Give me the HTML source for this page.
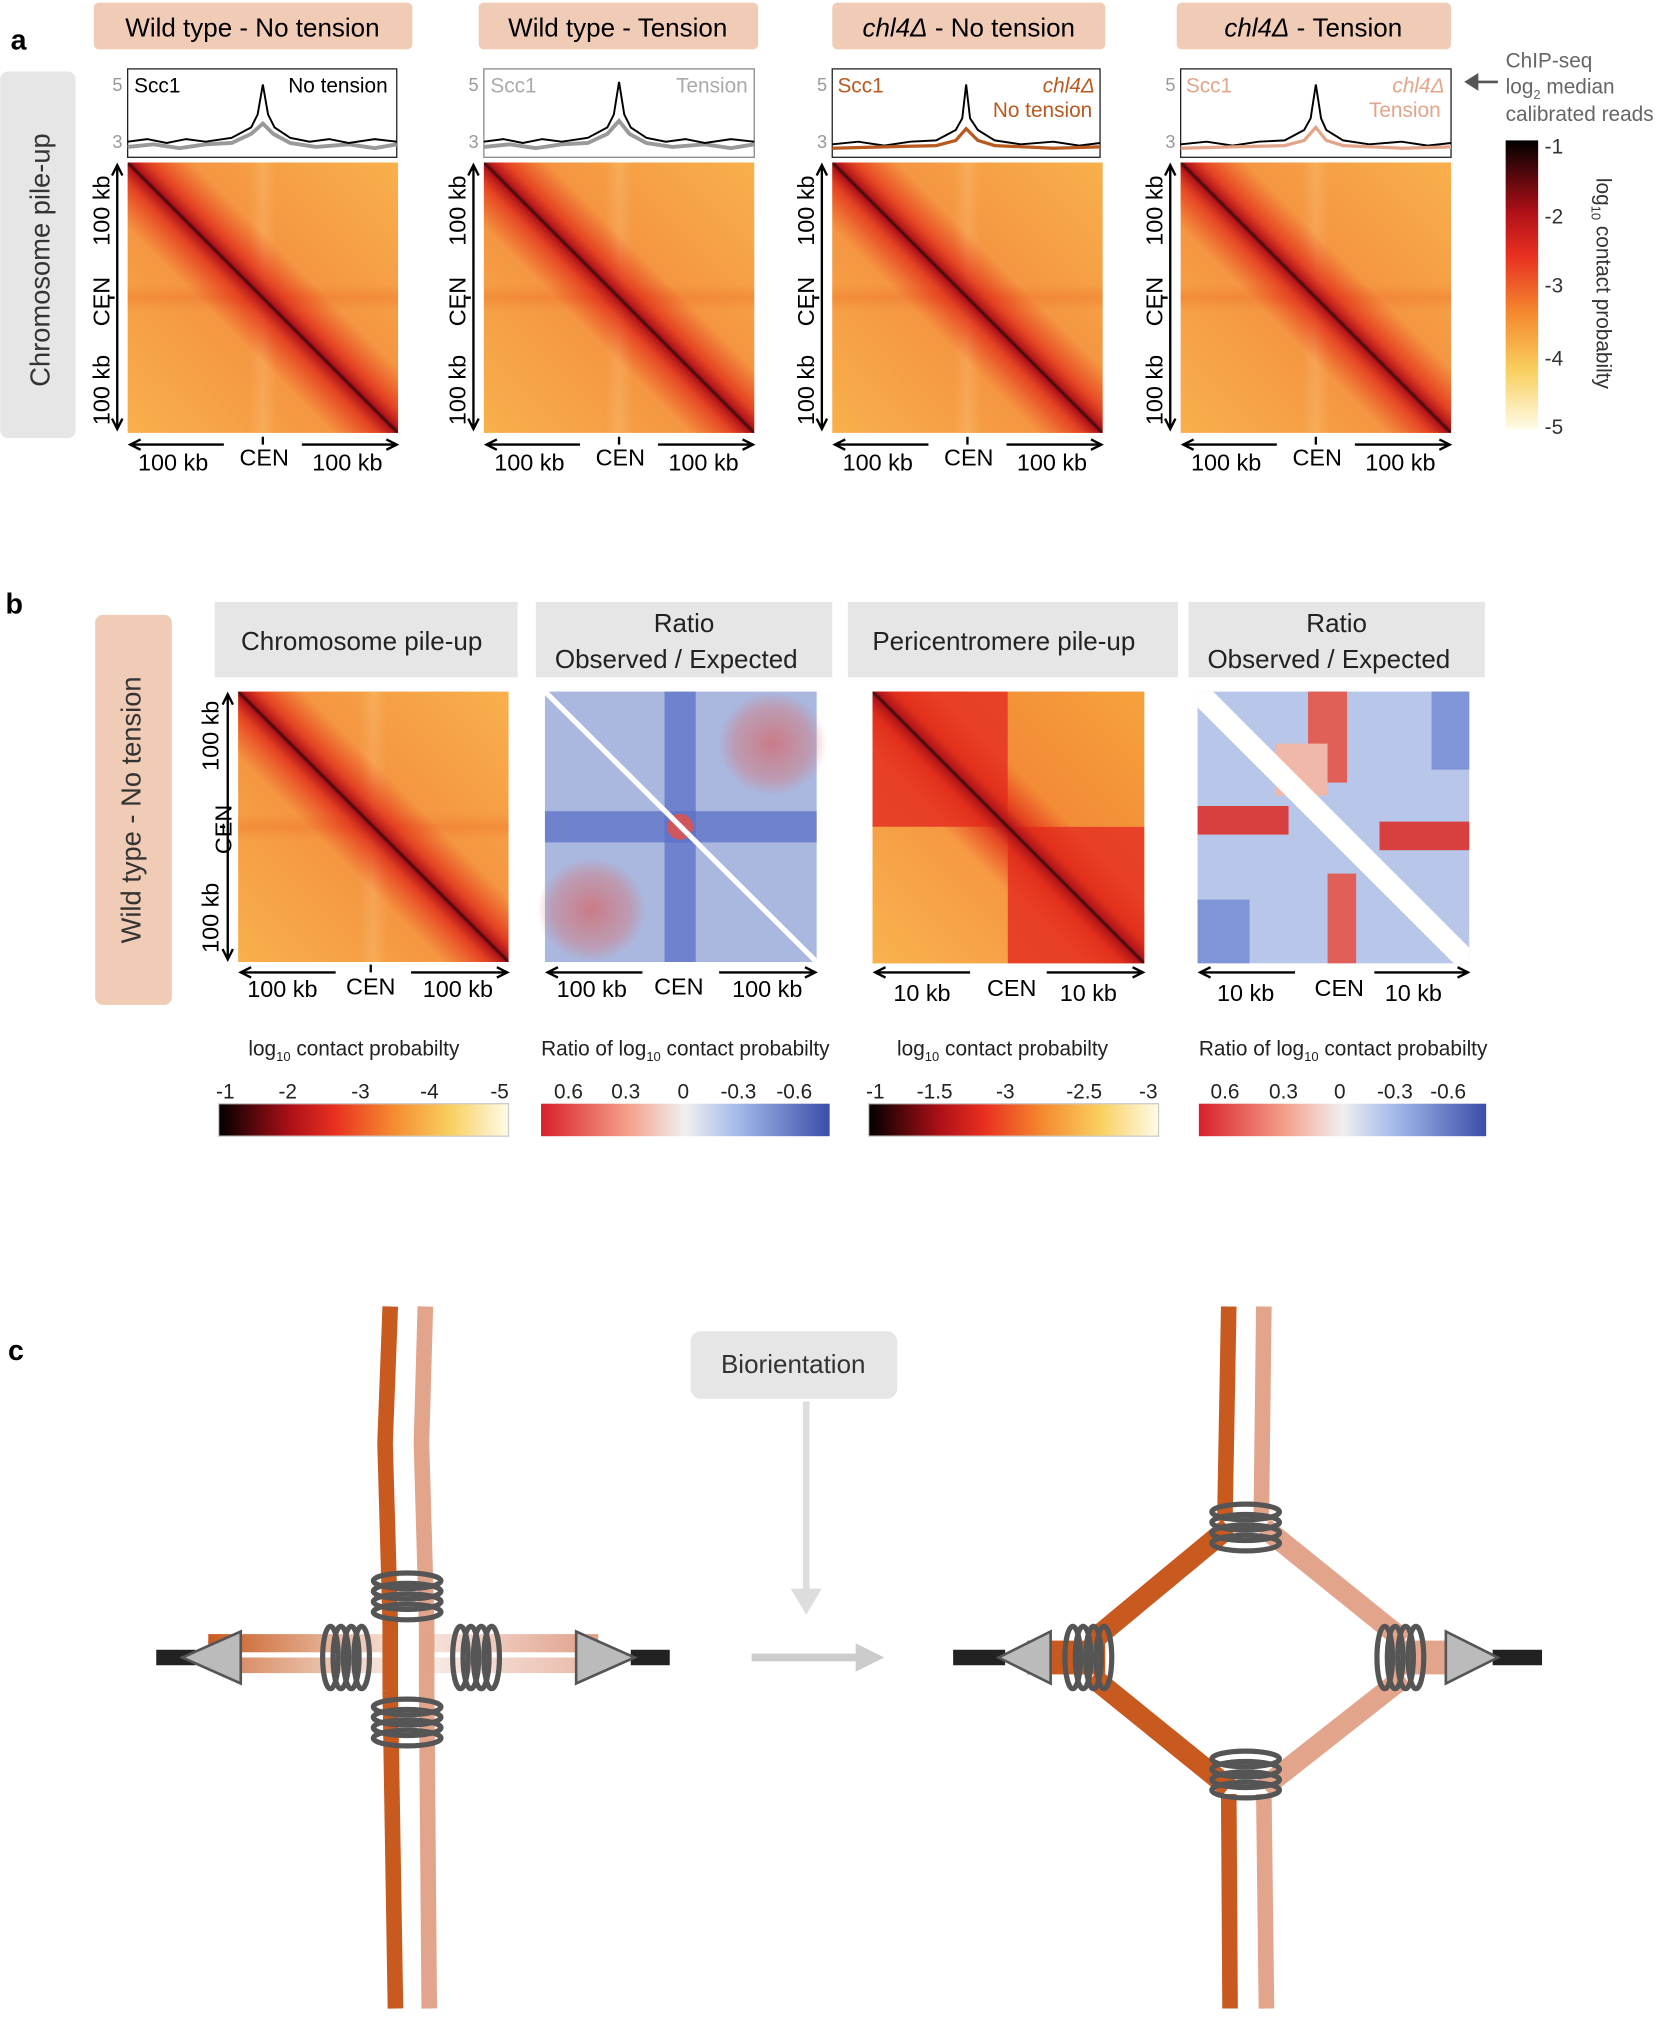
<!DOCTYPE html>
<html><head><meta charset="utf-8"><style>body{margin:0;background:#fff}svg{display:block}</style></head><body>
<svg xmlns="http://www.w3.org/2000/svg" width="1671" height="2041" viewBox="0 0 1285 1570" font-family="Liberation Sans, sans-serif">
<defs>
<linearGradient id="diag" x1="0" y1="1" x2="1" y2="0">
<stop offset="0" stop-color="#e8301a" stop-opacity="0"/>
<stop offset="0.38" stop-color="#e8301a" stop-opacity="0.2"/>
<stop offset="0.46" stop-color="#e02a18" stop-opacity="0.8"/>
<stop offset="0.493" stop-color="#b0141a"/>
<stop offset="0.5" stop-color="#3a0a0a"/>
<stop offset="0.507" stop-color="#b0141a"/>
<stop offset="0.54" stop-color="#e02a18" stop-opacity="0.8"/>
<stop offset="0.62" stop-color="#e8301a" stop-opacity="0.2"/>
<stop offset="1" stop-color="#e8301a" stop-opacity="0"/>
</linearGradient>
<linearGradient id="vcross" x1="0" y1="0" x2="1" y2="0">
<stop offset="0.45" stop-color="#fbd07a" stop-opacity="0"/>
<stop offset="0.5" stop-color="#fbd07a" stop-opacity="0.5"/>
<stop offset="0.55" stop-color="#fbd07a" stop-opacity="0"/>
</linearGradient>
<linearGradient id="hcross" x1="0" y1="0" x2="0" y2="1">
<stop offset="0.45" stop-color="#e8601a" stop-opacity="0"/>
<stop offset="0.5" stop-color="#e8601a" stop-opacity="0.25"/>
<stop offset="0.55" stop-color="#e8601a" stop-opacity="0"/>
</linearGradient>
<linearGradient id="cbv" x1="0" y1="0" x2="0" y2="1">
<stop offset="0" stop-color="#000"/><stop offset="0.25" stop-color="#b01018"/><stop offset="0.4" stop-color="#e83020"/><stop offset="0.6" stop-color="#f58a30"/><stop offset="0.8" stop-color="#f9d060"/><stop offset="1" stop-color="#fffbe8"/>
</linearGradient>
<linearGradient id="cbh" x1="0" y1="0" x2="1" y2="0">
<stop offset="0" stop-color="#000"/><stop offset="0.25" stop-color="#b01018"/><stop offset="0.4" stop-color="#e83020"/><stop offset="0.6" stop-color="#f58a30"/><stop offset="0.8" stop-color="#f9d060"/><stop offset="1" stop-color="#fffbe8"/>
</linearGradient>
<linearGradient id="cbr" x1="0" y1="0" x2="1" y2="0">
<stop offset="0" stop-color="#d8202a"/><stop offset="0.3" stop-color="#f4a08a"/><stop offset="0.5" stop-color="#f0f0f0"/><stop offset="0.7" stop-color="#9cb4e8"/><stop offset="1" stop-color="#3a4ea8"/>
</linearGradient>
<radialGradient id="redc" cx="0.5" cy="0.5" r="0.5">
<stop offset="0" stop-color="#d86060" stop-opacity="0.7"/><stop offset="0.7" stop-color="#d87070" stop-opacity="0.4"/><stop offset="1" stop-color="#d87070" stop-opacity="0"/>
</radialGradient>
<linearGradient id="orgFade" x1="0" y1="0" x2="1" y2="0"><stop offset="0" stop-color="#c85a20"/><stop offset="1" stop-color="#c85a20" stop-opacity="0.2"/></linearGradient>
<linearGradient id="orgFadeR" x1="1" y1="0" x2="0" y2="0"><stop offset="0" stop-color="#e0a088"/><stop offset="1" stop-color="#e0a088" stop-opacity="0.3"/></linearGradient>
<g id="hm">
<rect width="208" height="208" fill="#f8b04c"/>
<rect width="208" height="208" fill="url(#vcross)"/>
<rect width="208" height="208" fill="url(#hcross)"/>
<rect width="208" height="208" fill="url(#diag)"/>
</g>
<g id="coil" fill="none" stroke="#555" stroke-width="4">
<ellipse cx="0" cy="-12" rx="26" ry="6"/><ellipse cx="0" cy="-4" rx="26" ry="6"/><ellipse cx="0" cy="4" rx="26" ry="6"/><ellipse cx="0" cy="12" rx="26" ry="6"/>
</g>
<g id="coilv" fill="none" stroke="#555" stroke-width="4">
<ellipse cx="-12" cy="0" rx="6" ry="24"/><ellipse cx="-4" cy="0" rx="6" ry="24"/><ellipse cx="4" cy="0" rx="6" ry="24"/><ellipse cx="12" cy="0" rx="6" ry="24"/>
</g>
</defs>

<text x="8" y="38" font-size="22" font-weight="bold">a</text>
<rect x="0" y="55" width="58" height="282" rx="6" fill="#e6e6e6"/>
<text transform="translate(38,200) rotate(-90)" text-anchor="middle" font-size="21" fill="#333">Chromosome pile-up</text>

<g font-size="20">
<rect x="72" y="2" width="245" height="36" rx="4" fill="#f0cbb6"/><text x="194" y="28" text-anchor="middle">Wild type - No tension</text>
<rect x="368" y="2" width="215" height="36" rx="4" fill="#f0cbb6"/><text x="475" y="28" text-anchor="middle">Wild type - Tension</text>
<rect x="640" y="2" width="210" height="36" rx="4" fill="#f0cbb6"/><text x="745" y="28" text-anchor="middle"><tspan font-style="italic">chl4Δ</tspan> - No tension</text>
<rect x="905" y="2" width="211" height="36" rx="4" fill="#f0cbb6"/><text x="1010" y="28" text-anchor="middle"><tspan font-style="italic">chl4Δ</tspan> - Tension</text>
</g>

<g font-size="16">
<g transform="translate(98,53)">
<rect width="207" height="68" fill="#fff" stroke="#222"/>
<polyline fill="none" stroke="#999" stroke-width="3" points="0,60 20,58 40,61 60,58 80,57 95,50 104,42 112,50 125,57 145,60 170,58 190,61 207,58"/>
<polyline fill="none" stroke="#000" stroke-width="1.5" points="0,56 15,54 30,57 45,54 60,56 80,53 95,45 100,35 104,12 108,35 113,45 125,53 140,56 155,54 170,57 190,54 207,56"/>
<text x="5" y="18">Scc1</text><text x="200" y="18" text-anchor="end">No tension</text>
<text x="-4" y="17" font-size="14" fill="#999" text-anchor="end">5</text><text x="-4" y="61" font-size="14" fill="#999" text-anchor="end">3</text>
</g>
<g transform="translate(372,53)">
<rect width="208" height="68" fill="#fff" stroke="#888"/>
<polyline fill="none" stroke="#999" stroke-width="3" points="0,60 20,58 40,61 60,58 80,57 95,50 104,40 112,50 125,57 145,60 170,58 190,61 208,58"/>
<polyline fill="none" stroke="#000" stroke-width="1.5" points="0,56 15,54 30,57 45,54 60,56 80,53 95,45 100,35 104,10 108,35 113,45 125,53 140,56 155,54 170,57 190,54 208,56"/>
<text x="5" y="18" fill="#aaa">Scc1</text><text x="203" y="18" fill="#aaa" text-anchor="end">Tension</text>
<text x="-4" y="17" font-size="14" fill="#999" text-anchor="end">5</text><text x="-4" y="61" font-size="14" fill="#999" text-anchor="end">3</text>
</g>
<g transform="translate(640,53)">
<rect width="206" height="68" fill="#fff" stroke="#222"/>
<polyline fill="none" stroke="#000" stroke-width="1.5" points="0,58 20,56 40,59 60,56 80,55 95,47 100,38 103,12 106,38 112,47 125,55 145,58 170,56 190,59 206,57"/>
<polyline fill="none" stroke="#b85a20" stroke-width="2.5" points="0,61 40,60 80,59 95,55 103,46 112,55 125,59 170,61 206,60"/>
<text x="4" y="18" fill="#b85a20">Scc1</text><text x="202" y="18" fill="#b85a20" font-style="italic" text-anchor="end">chl4Δ</text><text x="200" y="37" fill="#b85a20" text-anchor="end">No tension</text>
<text x="-4" y="17" font-size="14" fill="#999" text-anchor="end">5</text><text x="-4" y="61" font-size="14" fill="#999" text-anchor="end">3</text>
</g>
<g transform="translate(908,53)">
<rect width="208" height="68" fill="#fff" stroke="#222"/>
<polyline fill="none" stroke="#000" stroke-width="1.5" points="0,58 20,56 40,59 60,56 80,55 95,47 100,38 104,12 108,38 112,47 125,55 145,58 170,56 190,59 208,57"/>
<polyline fill="none" stroke="#e3a58a" stroke-width="2.5" points="0,61 40,60 80,59 95,55 104,45 112,55 125,59 170,61 208,60"/>
<text x="4" y="18" fill="#e3a58a">Scc1</text><text x="203" y="18" fill="#e3a58a" font-style="italic" text-anchor="end">chl4Δ</text><text x="200" y="37" fill="#e3a58a" text-anchor="end">Tension</text>
<text x="-4" y="17" font-size="14" fill="#999" text-anchor="end">5</text><text x="-4" y="61" font-size="14" fill="#999" text-anchor="end">3</text>
</g>
</g>
<path d="M1152,63 L1128,63 M1128,63 l8,-5 l0,10z" stroke="#555" stroke-width="2" fill="#555"/>
<text x="1158" y="52" font-size="16" fill="#666">ChIP-seq</text>
<text x="1158" y="72" font-size="16" fill="#666">log<tspan font-size="10" dy="4">2</tspan><tspan dy="-4"> median</tspan></text>
<text x="1158" y="93" font-size="16" fill="#666">calibrated reads</text>

<use href="#hm" x="98" y="125"/>
<use href="#hm" x="372" y="125"/>
<use href="#hm" x="640" y="125"/>
<use href="#hm" x="908" y="125"/>

<g font-size="18" stroke-width="1.8">
<g id="axA">
<path d="M90,127 V330 M86,135 l4,-8 l4,8 M86,322 l4,8 l4,-8 M100,342 H172 M108,338 l-8,4 l8,4 M232,342 H305 M297,338 l8,4 l-8,4 M202,336 v6 M88,229 h-4" stroke="#000" fill="none"/>
<text transform="translate(84,162) rotate(-90)" text-anchor="middle">100 kb</text>
<text transform="translate(84,232) rotate(-90)" text-anchor="middle">CEN</text>
<text transform="translate(84,300) rotate(-90)" text-anchor="middle">100 kb</text>
<text x="133" y="362" text-anchor="middle">100 kb</text>
<text x="203" y="358" text-anchor="middle">CEN</text>
<text x="267" y="362" text-anchor="middle">100 kb</text>
</g>
<use href="#axA" x="274"/>
<use href="#axA" x="542"/>
<use href="#axA" x="810"/>
</g>

<rect x="1158" y="108" width="25" height="222" fill="url(#cbv)"/>
<g font-size="16" fill="#333">
<text x="1188" y="118">-1</text><text x="1188" y="172">-2</text><text x="1188" y="225">-3</text><text x="1188" y="281">-4</text><text x="1188" y="334">-5</text>
</g>
<text transform="translate(1228,218) rotate(90)" text-anchor="middle" font-size="16" fill="#333">log<tspan font-size="10" dy="4">10</tspan><tspan dy="-4"> contact probabilty</tspan></text>

<text x="4" y="472" font-size="22" font-weight="bold">b</text>
<rect x="73" y="473" width="59" height="300" rx="6" fill="#f0cbb6"/>
<text transform="translate(108,623) rotate(-90)" text-anchor="middle" font-size="21" fill="#333">Wild type - No tension</text>
<g font-size="20" fill="#222">
<rect x="165" y="463" width="233" height="58" fill="#e6e6e6"/><text x="278" y="500" text-anchor="middle">Chromosome pile-up</text>
<rect x="412" y="463" width="228" height="58" fill="#e6e6e6"/><text x="526" y="486" text-anchor="middle">Ratio</text><text x="520" y="514" text-anchor="middle">Observed / Expected</text>
<rect x="652" y="463" width="254" height="58" fill="#e6e6e6"/><text x="772" y="500" text-anchor="middle">Pericentromere pile-up</text>
<rect x="914" y="463" width="228" height="58" fill="#e6e6e6"/><text x="1028" y="486" text-anchor="middle">Ratio</text><text x="1022" y="514" text-anchor="middle">Observed / Expected</text>
</g>

<use href="#hm" x="183" y="532"/>
<g transform="translate(419,532)">
<rect width="209" height="208" fill="#aab8e0"/>
<rect x="92" y="0" width="24" height="208" fill="#5a70c8" opacity="0.75"/>
<rect x="0" y="92" width="209" height="24" fill="#5a70c8" opacity="0.75"/>
<ellipse cx="175" cy="40" rx="42" ry="40" fill="url(#redc)"/>
<ellipse cx="36" cy="168" rx="42" ry="40" fill="url(#redc)"/>
<circle cx="104" cy="104" r="10" fill="#e85040" opacity="0.8"/>
<line x1="0" y1="0" x2="209" y2="208" stroke="#fff" stroke-width="4"/>
</g>
<g transform="translate(671,532)">
<rect width="209" height="209" fill="#f59a3a"/>
<rect width="104" height="104" fill="#e8442a"/>
<rect x="104" y="104" width="105" height="105" fill="#e8442a"/>
<rect x="0" y="104" width="104" height="105" fill="#fbc45a" opacity="0.6"/>
<rect x="104" y="0" width="105" height="104" fill="#f8a940" opacity="0.5"/>
<rect width="209" height="209" fill="url(#diag)"/>
</g>
<g transform="translate(921,532)">
<rect width="209" height="209" fill="#b8c6ea"/>
<rect x="180" y="0" width="29" height="60" fill="#8094d8"/>
<rect x="0" y="160" width="40" height="49" fill="#8094d8"/>
<rect x="85" y="0" width="30" height="70" fill="#e06058"/>
<rect x="0" y="88" width="70" height="22" fill="#d84040"/>
<rect x="140" y="100" width="69" height="22" fill="#d84040"/>
<rect x="100" y="140" width="22" height="69" fill="#e06058"/>
<rect x="60" y="40" width="40" height="40" fill="#f0b8a8"/>
<polygon points="0,0 12,0 209,197 209,209 197,209 0,12" fill="#fff"/>
</g>

<g font-size="18" stroke-width="1.8">
<g id="axB">
<path d="M175,534 V738 M171,542 l4,-8 l4,8 M171,730 l4,8 l4,-8 M185,748 H258 M193,744 l-8,4 l8,4 M316,748 H390 M382,744 l8,4 l-8,4 M285,742 v6 M173,636 h-4" stroke="#000" fill="none"/>
<text transform="translate(168,566) rotate(-90)" text-anchor="middle">100 kb</text>
<text transform="translate(178,638) rotate(-90)" text-anchor="middle">CEN</text>
<text transform="translate(168,706) rotate(-90)" text-anchor="middle">100 kb</text>
<text x="217" y="767" text-anchor="middle">100 kb</text>
<text x="285" y="765" text-anchor="middle">CEN</text>
<text x="352" y="767" text-anchor="middle">100 kb</text>
</g>
<path d="M421,748 H494 M429,744 l-8,4 l8,4 M553,748 H627 M619,744 l8,4 l-8,4" stroke="#000" fill="none"/>
<text x="455" y="767" text-anchor="middle">100 kb</text><text x="522" y="765" text-anchor="middle">CEN</text><text x="590" y="767" text-anchor="middle">100 kb</text>
<path d="M673,748 H746 M681,744 l-8,4 l8,4 M805,748 H879 M871,744 l8,4 l-8,4" stroke="#000" fill="none"/>
<text x="709" y="770" text-anchor="middle">10 kb</text><text x="778" y="766" text-anchor="middle">CEN</text><text x="837" y="770" text-anchor="middle">10 kb</text>
<path d="M923,748 H996 M931,744 l-8,4 l8,4 M1057,748 H1129 M1121,744 l8,4 l-8,4" stroke="#000" fill="none"/>
<text x="958" y="770" text-anchor="middle">10 kb</text><text x="1030" y="766" text-anchor="middle">CEN</text><text x="1087" y="770" text-anchor="middle">10 kb</text>
</g>

<g font-size="16" fill="#222">
<text x="272" y="812" text-anchor="middle">log<tspan font-size="10" dy="4">10</tspan><tspan dy="-4">  contact probabilty</tspan></text>
<text x="527" y="812" text-anchor="middle">Ratio of log<tspan font-size="10" dy="4">10</tspan><tspan dy="-4">  contact probabilty</tspan></text>
<text x="771" y="812" text-anchor="middle">log<tspan font-size="10" dy="4">10</tspan><tspan dy="-4">  contact probabilty</tspan></text>
<text x="1033" y="812" text-anchor="middle">Ratio of log<tspan font-size="10" dy="4">10</tspan><tspan dy="-4">  contact probabilty</tspan></text>
<text x="166" y="845">-1</text><text x="214" y="845">-2</text><text x="270" y="845">-3</text><text x="323" y="845">-4</text><text x="377" y="845">-5</text>
<text x="426" y="845">0.6</text><text x="470" y="845">0.3</text><text x="521" y="845">0</text><text x="554" y="845">-0.3</text><text x="597" y="845">-0.6</text>
<text x="666" y="845">-1</text><text x="705" y="845">-1.5</text><text x="766" y="845">-3</text><text x="820" y="845">-2.5</text><text x="876" y="845">-3</text>
<text x="931" y="845">0.6</text><text x="976" y="845">0.3</text><text x="1026" y="845">0</text><text x="1059" y="845">-0.3</text><text x="1100" y="845">-0.6</text>
</g>
<rect x="168" y="849" width="223" height="25" fill="url(#cbh)" stroke="#ccc"/>
<rect x="416" y="849" width="222" height="25" fill="url(#cbr)"/>
<rect x="668" y="849" width="223" height="25" fill="url(#cbh)" stroke="#ccc"/>
<rect x="922" y="849" width="221" height="25" fill="url(#cbr)"/>

<text x="6" y="1046" font-size="22" font-weight="bold">c</text>
<rect x="531" y="1024" width="159" height="52" rx="8" fill="#e6e6e6"/>
<text x="610" y="1056" text-anchor="middle" font-size="20" fill="#333">Biorientation</text>
<path d="M620,1078 V1225" stroke="#ddd" stroke-width="5"/>
<polygon points="608,1222 632,1222 620,1242" fill="#ddd"/>
<path d="M578,1275 H660" stroke="#ccc" stroke-width="6"/>
<polygon points="658,1264 680,1275 658,1286" fill="#ccc"/>

<g>
<path d="M300,1005 L296,1110 300,1250 M300,1300 L304,1545" stroke="#c85a20" stroke-width="12" fill="none"/>
<path d="M327,1005 L324,1110 328,1250 M328,1300 L330,1545" stroke="#e3a48c" stroke-width="12" fill="none"/>
<path d="M300,1245 V1300" stroke="#c85a20" stroke-width="12"/>
<path d="M328,1245 V1300" stroke="#e3a48c" stroke-width="12"/>
<rect x="160" y="1257" width="140" height="14" fill="url(#orgFade)"/>
<rect x="330" y="1257" width="130" height="14" fill="url(#orgFadeR)"/>
<rect x="180" y="1275" width="120" height="12" fill="url(#orgFade)" opacity="0.7"/>
<rect x="330" y="1275" width="120" height="12" fill="url(#orgFadeR)" opacity="0.7"/>
<path d="M120,1269 h30 v12 h-30z" fill="#222"/>
<polygon points="140,1275 185,1255 185,1295" fill="#bbb" stroke="#555" stroke-width="2"/>
<path d="M485,1269 h30 v12 h-30z" fill="#222"/>
<polygon points="488,1275 443,1255 443,1295" fill="#bbb" stroke="#555" stroke-width="2"/>
<use href="#coil" x="313" y="1228"/>
<use href="#coil" x="313" y="1325"/>
<use href="#coilv" x="266" y="1275"/>
<use href="#coilv" x="366" y="1275"/>
</g>

<g>
<path d="M945,1005 L942,1170 M945,1380 L946,1545" stroke="#c85a20" stroke-width="12" fill="none"/>
<path d="M972,1005 L970,1170 M972,1380 L974,1545" stroke="#e3a48c" stroke-width="12" fill="none"/>
<path d="M945,1175 L840,1262 M945,1375 L840,1290" stroke="#c85a20" stroke-width="16" fill="none"/>
<path d="M972,1175 L1080,1262 M972,1375 L1080,1290" stroke="#e3a48c" stroke-width="16" fill="none"/>
<rect x="790" y="1262" width="60" height="26" fill="#c85a20"/>
<rect x="1070" y="1262" width="55" height="26" fill="#e3a48c"/>
<path d="M733,1269 h40 v12 h-40z" fill="#222"/>
<polygon points="768,1275 808,1255 808,1295" fill="#bbb" stroke="#555" stroke-width="2"/>
<path d="M1148,1269 h38 v12 h-38z" fill="#222"/>
<polygon points="1152,1275 1112,1255 1112,1295" fill="#bbb" stroke="#555" stroke-width="2"/>
<use href="#coil" x="958" y="1175"/>
<use href="#coil" x="958" y="1365"/>
<use href="#coilv" x="837" y="1275"/>
<use href="#coilv" x="1077" y="1275"/>
</g>
</svg>
</body></html>
